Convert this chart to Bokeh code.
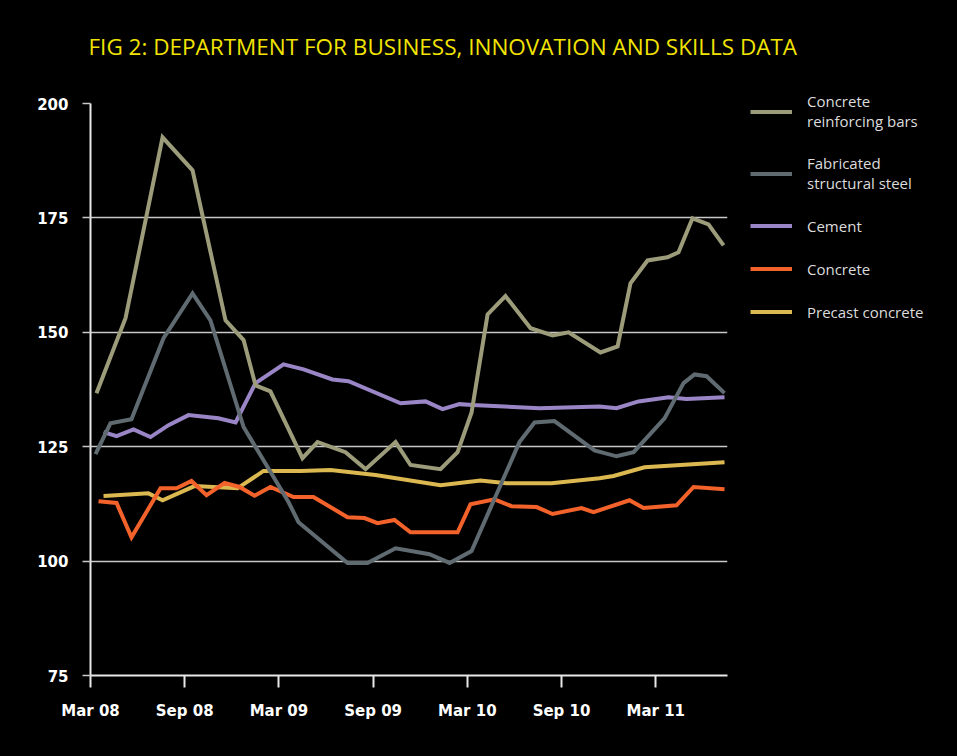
from bokeh.plotting import figure
from bokeh.layouts import row, column
from bokeh.models import (ColumnDataSource, FixedTicker, Legend, LegendItem, Range1d, Label)
from bokeh.embed import file_html
from bokeh.resources import INLINE

# ---- data (x = months since Mar 2008, y = index) ----
title_text = "FIG 2: DEPARTMENT FOR BUSINESS, INNOVATION AND SKILLS DATA"
tick_months = [0, 6, 12, 18, 24, 30, 36]
tick_labels = ["Mar 08", "Sep 08", "Mar 09", "Sep 09", "Mar 10", "Sep 10", "Mar 11"]
y_ticks = [75, 100, 125, 150, 175, 200]

rebar_x = [0.38, 2.23, 4.59, 6.50, 8.60, 9.75, 10.51, 11.46, 13.50, 14.46, 16.24, 17.52,
           19.43, 20.38, 22.29, 23.38, 24.27, 25.29, 26.43, 28.03, 29.43, 30.45, 32.48,
           33.57, 34.39, 35.48, 36.75, 37.45, 38.34, 39.36, 40.32]
rebar_y = [136.7, 153.1, 192.6, 185.4, 152.6, 148.3, 138.4, 137.1, 122.5, 126.0, 123.8, 120.1,
           126.0, 121.0, 120.1, 123.8, 132.5, 153.9, 157.9, 150.9, 149.3, 150.0, 145.6,
           146.9, 160.7, 165.7, 166.4, 167.5, 174.9, 173.6, 169.0]

steel_x = [0.32, 1.27, 2.61, 4.65, 6.50, 7.64, 9.75, 12.61, 13.25, 16.37, 17.64, 19.43,
           21.59, 22.87, 24.27, 27.32, 28.28, 29.55, 32.10, 33.50, 34.59, 36.56, 37.77,
           38.47, 39.24, 40.38]
steel_y = [123.4, 130.1, 131.0, 148.7, 158.5, 152.6, 129.3, 112.9, 108.5, 99.6, 99.6, 102.8,
           101.5, 99.6, 102.2, 126.0, 130.3, 130.6, 124.2, 122.9, 123.8, 131.2, 138.9,
           140.8, 140.4, 136.7]

cement_x = [0.83, 1.66, 2.74, 3.82, 4.97, 6.24, 8.15, 9.24, 10.51, 12.29, 13.57, 15.41,
            16.43, 19.75, 21.34, 22.42, 23.50, 24.33, 28.60, 32.42, 33.50, 34.90, 36.82,
            37.96, 40.38]
cement_y = [128.2, 127.3, 128.8, 127.1, 129.7, 131.9, 131.2, 130.3, 138.9, 143.0, 141.9, 139.7,
            139.3, 134.5, 134.9, 133.2, 134.3, 134.1, 133.4, 133.8, 133.4, 134.9, 135.8,
            135.4, 135.8]

concrete_x = [0.51, 1.66, 2.61, 4.46, 5.48, 6.43, 7.39, 8.54, 9.49, 10.45, 11.46, 12.93,
              14.20, 16.37, 17.45, 18.28, 19.36, 20.38, 23.38, 24.20, 25.73, 26.82, 28.41,
              29.43, 31.27, 32.04, 34.33, 35.22, 37.32, 38.41, 40.38]
concrete_y = [113.1, 112.7, 105.2, 115.9, 115.9, 117.5, 114.4, 117.1, 116.2, 114.3, 116.2, 114.0,
              114.0, 109.6, 109.4, 108.3, 109.0, 106.3, 106.3, 112.4, 113.5, 112.0, 111.8,
              110.3, 111.6, 110.7, 113.3, 111.6, 112.2, 116.2, 115.7]

precast_x = [0.83, 3.69, 4.59, 6.62, 9.36, 11.02, 13.38, 15.29, 18.15, 22.29, 24.84, 26.50,
             29.36, 32.42, 33.31, 35.29, 40.38]
precast_y = [114.2, 114.8, 113.3, 116.4, 115.9, 119.7, 119.7, 119.9, 118.8, 116.6, 117.6, 117.0,
             117.0, 118.1, 118.6, 120.5, 121.6]

series = [
    ("Concrete\nreinforcing bars", rebar_x, rebar_y, "#9c9c7b"),
    ("Fabricated\nstructural steel", steel_x, steel_y, "#5f6b71"),
    ("Cement", cement_x, cement_y, "#9a86c6"),
    ("Concrete", concrete_x, concrete_y, "#f2622a"),
    ("Precast concrete", precast_x, precast_y, "#dcb850"),
]
draw_order = [4, 3, 2, 0, 1]
LW = 4
BG = "black"
TOP = 85
BLACK_BOX = {"background-color": BG}


def blank(width, height):
    f = figure(width=width, height=height, output_backend="svg", toolbar_location=None,
               x_range=Range1d(0, 1), y_range=Range1d(0, 1),
               x_axis_location=None, y_axis_location=None,
               min_border_left=0, min_border_right=0, min_border_top=0, min_border_bottom=0,
               background_fill_color=BG, border_fill_color=BG)
    f.outline_line_color = None
    f.grid.visible = False
    return f


# ---- title strip ----
tf = blank(957, TOP)
tf.add_layout(Label(x=88, y=TOP - 46, x_units="screen", y_units="screen", text=title_text,
                    text_color="#f2e400", text_font="Open Sans", text_font_size="22.5px",
                    text_baseline="middle", text_align="left"))

# ---- main chart ----
p = figure(width=740, height=756 - TOP, output_backend="svg", toolbar_location=None,
           x_range=Range1d(0, 40.57), y_range=Range1d(75, 200),
           min_border_left=90, min_border_right=13, min_border_top=103 - TOP,
           min_border_bottom=81, background_fill_color=BG, border_fill_color=BG)
p.outline_line_color = None

sources = [ColumnDataSource(dict(x=xs, y=ys)) for _, xs, ys, _ in series]
for i in draw_order:
    p.line("x", "y", source=sources[i], line_color=series[i][3], line_width=LW,
           line_join="miter")

p.xaxis.ticker = FixedTicker(ticks=tick_months)
p.xaxis.major_label_overrides = {m: l for m, l in zip(tick_months, tick_labels)}
p.yaxis.ticker = FixedTicker(ticks=y_ticks)
for ax in (p.xaxis[0], p.yaxis[0]):
    ax.axis_line_color = "#e8e8e8"
    ax.axis_line_width = 2
    ax.major_label_text_color = "white"
    ax.major_label_text_font = "DejaVu Sans"
    ax.major_label_text_font_style = "bold"
    ax.major_label_text_font_size = "15px"
    ax.minor_tick_line_color = None
    ax.major_tick_line_color = "#e8e8e8"
    ax.major_tick_line_width = 2
    ax.major_tick_in = 0
p.xaxis.major_tick_out = 12
p.xaxis.major_label_standoff = 14
p.yaxis.major_tick_out = 8
p.yaxis.major_tick_line_width = 1.5
p.yaxis.major_tick_line_color = "#c8c8c8"
p.yaxis.major_label_standoff = 14

p.xgrid.grid_line_color = None
p.ygrid.grid_line_color = "#c8c8c8"
p.ygrid.grid_line_width = 1.5
p.ygrid.ticker = FixedTicker(ticks=y_ticks)

# ---- legend panel (same sources, out of its view so only the legend shows) ----
lg = blank(217, 756 - TOP)
items = []
for (name, xs, ys, col), src in zip(series, sources):
    r = lg.line("x", "y", source=src, line_color=col, line_width=LW)
    items.append(LegendItem(label=name, renderers=[r]))

legend = Legend(
    items=items, location=(10, 434),
    background_fill_alpha=0, border_line_color=None,
    label_text_color="#dcdcdc", label_text_font="Open Sans",
    label_text_font_size="15px", label_text_line_height=1.4,
    glyph_width=42, glyph_height=21, label_height=21,
    label_standoff=15, spacing=22, padding=0, margin=0,
)
lg.add_layout(legend)

left = column(p, spacing=0)
right = column(lg, spacing=0)
left.styles = BLACK_BOX
right.styles = BLACK_BOX
inner = row(left, right, spacing=0)
inner.styles = BLACK_BOX
layout = column(tf, inner, spacing=0)
layout.styles = BLACK_BOX
open("out.html", "w").write(file_html(layout, INLINE))
